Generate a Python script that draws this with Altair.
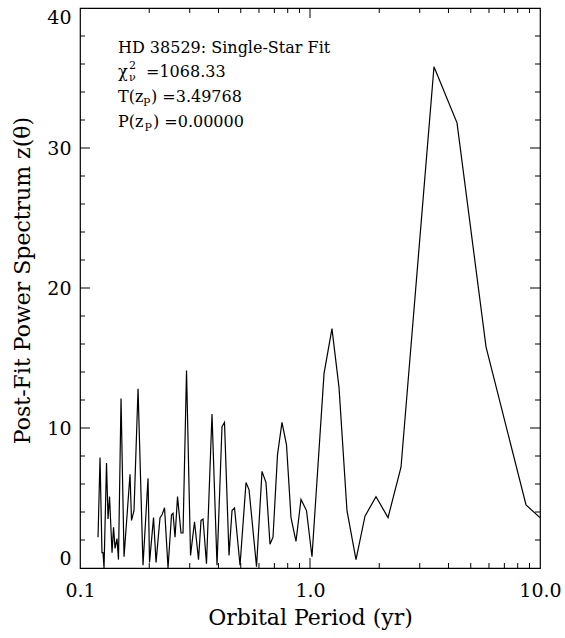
import altair as alt
import pandas as pd

# ---- data ----
period = [0.1198, 0.1222, 0.1246, 0.1259, 0.1272, 0.1304, 0.1324, 0.1344, 0.1378, 0.1399,
          0.1420, 0.1448, 0.1470, 0.1508, 0.1554, 0.1650, 0.1675, 0.1717, 0.1788, 0.1879,
          0.1976, 0.2006, 0.2088, 0.2141, 0.2228, 0.2273, 0.2331, 0.2414, 0.2500, 0.2538,
          0.2589, 0.2655, 0.2749, 0.2805, 0.2905, 0.3024, 0.3147, 0.3276, 0.3359, 0.3427,
          0.3548, 0.3749, 0.3942, 0.4144, 0.4249, 0.4445, 0.4581, 0.4697, 0.4963, 0.5270,
          0.5431, 0.5855, 0.6185, 0.6437, 0.6700, 0.6905, 0.7223, 0.7555, 0.7904, 0.8268,
          0.8692, 0.9138, 0.9656, 1.020, 1.151, 1.246, 1.337, 1.448, 1.585, 1.734,
          1.936, 2.184, 2.487, 3.46, 4.357, 5.825, 8.695, 10.0]
power = [2.2, 7.9, 1.1, 1.1, 0.0, 7.5, 3.5, 5.1, 1.1, 2.9,
         1.4, 2.1, 0.6, 12.1, 0.8, 6.7, 3.4, 4.1, 12.8, 0.2,
         6.4, 0.4, 3.6, 0.4, 3.6, 3.8, 4.3, 0.0, 3.8, 3.9,
         2.2, 5.1, 2.5, 2.5, 14.1, 0.9, 3.3, 0.6, 3.4, 3.5,
         0.3, 11.0, 0.2, 10.1, 10.4, 0.9, 4.1, 4.3, 0.2, 6.1,
         5.6, 0.1, 6.9, 6.1, 1.7, 2.2, 8.1, 10.4, 8.8, 3.6,
         1.9, 4.9, 4.1, 0.8, 13.9, 17.1, 12.9, 4.1, 0.6, 3.7,
         5.1, 3.6, 7.2, 35.8, 31.8, 15.8, 4.5, 3.6]

x_labels = [0.1, 1.0, 10.0]
y_labels = [0, 10, 20, 30, 40]
x_major = [1.0]
x_minor = [0.2, 0.3, 0.4, 0.5, 0.6, 0.7, 0.8, 0.9, 2, 3, 4, 5, 6, 7, 8, 9]
y_major = [10, 20, 30]
y_minor = [2, 4, 6, 8, 12, 14, 16, 18, 22, 24, 26, 28, 32, 34, 36, 38]

title_line = "HD 38529: Single-Star Fit"
chi_value = "=1068.33"
t_value = ") =3.49768"
p_value = ") =0.00000"

# ---- layout ----
W, H = 460, 560
FONT = "DejaVu Serif"
MAJ, MIN = 10, 5

xscale = alt.Scale(type="log", domain=[0.1, 10])
yscale = alt.Scale(domain=[0, 40])

x_axis = alt.Axis(
    values=x_labels, format=".1f", title="Orbital Period (yr)",
    ticks=False, domain=False, grid=False, labelFlush=False,
    labelFont=FONT, labelFontSize=19, labelColor="black", labelPadding=13,
    titleFont=FONT, titleFontSize=22, titleFontWeight="normal", titleColor="black",
    titleY=49, titleBaseline="middle")
y_axis = alt.Axis(
    values=y_labels, format="d", title="Post-Fit Power Spectrum z(θ)",
    ticks=False, domain=False, grid=False, labelFlush=True, labelFlushOffset=0,
    labelFont=FONT, labelFontSize=19, labelColor="black", labelPadding=9,
    titleFont=FONT, titleFontSize=22, titleFontWeight="normal", titleColor="black",
    titleX=-58, titleY=H / 2 - 8, titleBaseline="middle", titleAlign="center")

line = alt.Chart(pd.DataFrame({"P": period, "z": power})).mark_line(
    color="black", strokeWidth=1.2
).encode(
    x=alt.X("P:Q", scale=xscale, axis=x_axis),
    y=alt.Y("z:Q", scale=yscale, axis=y_axis),
)


def xticks(vals, length, top):
    y0, y1 = (0, length) if top else (H, H - length)
    return alt.Chart(pd.DataFrame({"P": vals})).mark_rule(color="black", strokeWidth=1).encode(
        x=alt.X("P:Q", scale=xscale, axis=x_axis), y=alt.value(y0), y2=alt.value(y1))


def yticks(vals, length, right):
    x0, x1 = (W, W - length) if right else (0, length)
    return alt.Chart(pd.DataFrame({"z": vals})).mark_rule(color="black", strokeWidth=1).encode(
        y=alt.Y("z:Q", scale=yscale, axis=y_axis), x=alt.value(x0), x2=alt.value(x1))


ticks = [
    xticks(x_major, MAJ, False), xticks(x_minor, MIN, False),
    xticks(x_major, MAJ, True), xticks(x_minor, MIN, True),
    yticks(y_major, MAJ, False), yticks(y_minor, MIN, False),
    yticks(y_major, MAJ, True), yticks(y_minor, MIN, True),
]


def txt(s, x, y, size=16):
    return alt.Chart(pd.DataFrame({"t": [s]})).mark_text(
        align="left", baseline="alphabetic", font=FONT, fontSize=size, color="black"
    ).encode(x=alt.value(x), y=alt.value(y), text="t:N")


X0 = 38
B1, B2, B3, B4 = 45, 69, 94, 119
texts = [
    txt(title_line, X0, B1),
    txt("χ", X0, B2),
    txt("2", X0 + 11, B2 - 8, 11),
    txt("ν", X0 + 11, B2 + 4, 11),
    txt(chi_value, X0 + 28, B2),
    txt("T(z", X0, B3),
    txt("P", X0 + 25, B3 + 4, 11),
    txt(t_value, X0 + 33, B3),
    txt("P(z", X0, B4),
    txt("P", X0 + 26.5, B4 + 4, 11),
    txt(p_value, X0 + 35, B4),
]

chart = alt.layer(line, *ticks, *texts).properties(
    width=W, height=H,
    padding={"left": 80, "top": 8, "right": 25, "bottom": 70},
    autosize=alt.AutoSizeParams(type="none"),
    background="white",
).configure_view(stroke="black", strokeWidth=1.2)

chart.save("out.html", embed_options={"renderer": "svg", "actions": False})
